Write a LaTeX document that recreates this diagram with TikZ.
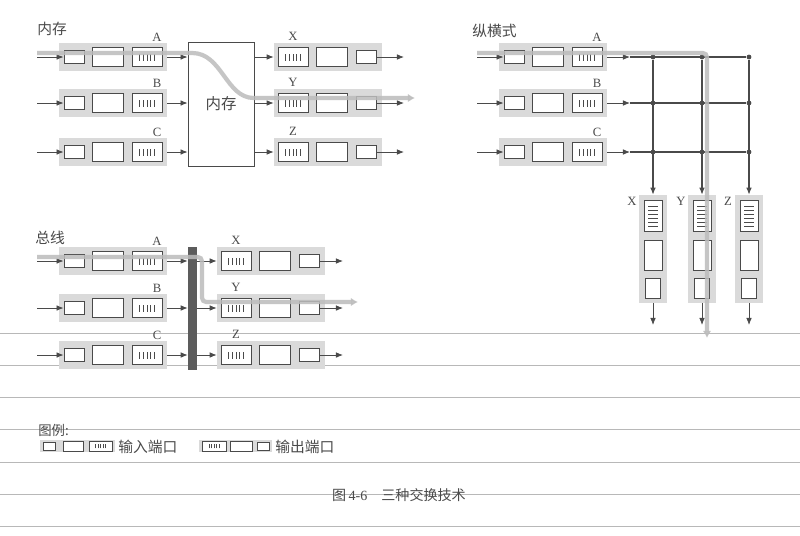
\documentclass[tikz,border=0pt]{standalone}
\usepackage{fontspec}
\setmainfont{Liberation Serif}
\newfontfamily\cjk{Noto Sans CJK SC}
\usepackage{tikz}
\usetikzlibrary{arrows.meta,positioning}

\definecolor{ink}{HTML}{4A4A4A}
\definecolor{portgray}{HTML}{DADADA}
\definecolor{pathgray}{HTML}{BCBCBC}
\definecolor{rulegray}{HTML}{B8B8B8}

\tikzset{
  portbg/.style={fill=portgray, draw=none, inner sep=0pt},
  cell/.style={draw=ink, fill=white, line width=0.6pt, inner sep=0pt},
  smallcell/.style={cell, minimum width=0.5cm, minimum height=0.33cm},
  midcell/.style={cell, minimum width=0.77cm, minimum height=0.48cm},
  queue/.style={cell, minimum width=0.75cm, minimum height=0.48cm,
    path picture={\foreach \k in {-2,...,2}
      \draw[ink, line width=0.4pt] ([xshift=\k*2.6pt, yshift=-2.8pt]path picture bounding box.center) -- ++(0,4.6pt);}},
  vsmallcell/.style={cell, minimum width=0.38cm, minimum height=0.5cm},
  vmidcell/.style={cell, minimum width=0.45cm, minimum height=0.75cm},
  vqueue/.style={cell, minimum width=0.45cm, minimum height=0.78cm,
    path picture={\foreach \k in {-2.5,...,2.5}
      \draw[ink, line width=0.4pt] ([xshift=-3.4pt, yshift=\k*2.8pt]path picture bounding box.center) -- ++(6.8pt,0);}},
  lcell/.style={cell, line width=0.5pt},
  lqueue/.style={cell, line width=0.5pt,
    path picture={\foreach \k in {-2,...,2}
      \draw[ink, line width=0.3pt] ([xshift=\k*1.8pt, yshift=-1.6pt]path picture bounding box.center) -- ++(0,3.2pt);}},
  lbl/.style={text=ink, font=\small, inner sep=0pt},
  ttl/.style={text=ink, font=\cjk\fontsize{10.5}{12}\selectfont, inner sep=0pt},
  arr/.style={ink, line width=0.6pt, -{Latex[length=5pt,width=4pt]}},
  wire/.style={ink, line width=0.8pt},
  dot/.style={circle, fill=ink, inner sep=0pt, minimum size=3.4pt},
  hl/.style={pathgray, line width=3pt, opacity=0.85, rounded corners=3pt,
    -{Latex[length=5pt,width=6pt]}},
  rule/.style={rulegray, line width=0.6pt}
}

% input port: name, left x, row y, label
\newcommand\inport[4]{%
  \node[portbg, minimum width=2.7cm, minimum height=0.7cm] (#1-bg) at (#2+54,#3) {};
  \node[smallcell] (#1-s) at (#2+15,#3) {};
  \node[midcell] (#1-m) at (#2+49,#3) {};
  \node[queue] (#1-q) at (#2+88,#3) {};
  \node[lbl] (#1-l) at (#2+98,#3-20) {#4};
}
% output port: name, left x, row y, label
\newcommand\outport[4]{%
  \node[portbg, minimum width=2.7cm, minimum height=0.7cm] (#1-bg) at (#2+54,#3) {};
  \node[queue] (#1-q) at (#2+19,#3) {};
  \node[midcell] (#1-m) at (#2+58,#3) {};
  \node[smallcell] (#1-s) at (#2+92,#3) {};
  \node[lbl] (#1-l) at (#2+19,#3-21) {#4};
}
% vertical output port: name, column x, top y, label
\newcommand\downport[4]{%
  \node[portbg, minimum width=0.68cm, minimum height=2.7cm] (#1-bg) at (#2,#3+54) {};
  \node[vqueue] (#1-q) at (#2,#3+21) {};
  \node[vmidcell] (#1-m) at (#2,#3+60) {};
  \node[vsmallcell] (#1-s) at (#2,#3+93) {};
  \node[lbl] (#1-l) at (#2-21,#3+6) {#4};
}

\begin{document}
\begin{tikzpicture}[x=0.025cm, y=-0.025cm]
    \useasboundingbox[fill=white] (0,0) rectangle (800,535);

    % ruled lines of the page
    \foreach \y in {333,365,397,429,462,494,526}
      \draw[rule] (0,\y) -- (800,\y);

    % Memory
    \node[ttl, anchor=west] (memtitle) at (37,29) {内存};
    \inport{mA}{59}{57}{A}
    \inport{mB}{59}{103}{B}
    \inport{mC}{59}{152}{C}
    \node[draw=ink, fill=white, line width=0.6pt, minimum width=1.65cm, minimum height=3.1cm] (mem) at (221,104) {};
    \node[ttl, font=\cjk\fontsize{11}{13}\selectfont] (memlabel) at (mem) {内存};
    \outport{oX}{274}{57}{X}
    \outport{oY}{274}{103}{Y}
    \outport{oZ}{274}{152}{Z}
    \coordinate (mA-in) at (37,57);
    \coordinate (mB-in) at (37,103);
    \coordinate (mC-in) at (37,152);
    \coordinate (oX-out) at (404,57);
    \coordinate (oY-out) at (404,103);
    \coordinate (oZ-out) at (404,152);
    \draw[arr] (mA-in) -- (mA-s);
    \draw[arr] (mB-in) -- (mB-s);
    \draw[arr] (mC-in) -- (mC-s);
    \draw[arr] (mA-bg.east) -- (mA-bg.east -| mem.west);
    \draw[arr] (mB-bg.east) -- (mB-bg.east -| mem.west);
    \draw[arr] (mC-bg.east) -- (mC-bg.east -| mem.west);
    \draw[arr] (mem.east |- oX-bg) -- (oX-bg.west);
    \draw[arr] (mem.east |- oY-bg) -- (oY-bg.west);
    \draw[arr] (mem.east |- oZ-bg) -- (oZ-bg.west);
    \draw[arr] (oX-s.east) -- (oX-out);
    \draw[arr] (oY-s.east) -- (oY-out);
    \draw[arr] (oZ-s.east) -- (oZ-out);
    % path A -> Y
    \coordinate (hm1) at (37,53);
    \coordinate (hm2) at (188,53);
    \coordinate (hm3) at (258,98);
    \coordinate (hm4) at (415,98);
    \draw[hl] (hm1) -- (hm2) .. controls (222,53) and (226,98) .. (hm3) -- (hm4);

    % Crossbar
    \node[ttl, anchor=west] (xbtitle) at (472,31) {纵横式};
    \inport{cA}{499}{57}{A}
    \inport{cB}{499}{103}{B}
    \inport{cC}{499}{152}{C}
    \coordinate (cA-in) at (477,57);
    \coordinate (cB-in) at (477,103);
    \coordinate (cC-in) at (477,152);
    \coordinate (gA) at (630,57);
    \coordinate (gB) at (630,103);
    \coordinate (gC) at (630,152);
    \draw[arr] (cA-in) -- (cA-s);
    \draw[arr] (cB-in) -- (cB-s);
    \draw[arr] (cC-in) -- (cC-s);
    \node[dot] (xAX) at (653,57) {};
    \node[dot] (xAY) at (702,57) {};
    \node[dot] (xAZ) at (749,57) {};
    \node[dot] (xBX) at (653,103) {};
    \node[dot] (xBY) at (702,103) {};
    \node[dot] (xBZ) at (749,103) {};
    \node[dot] (xCX) at (653,152) {};
    \node[dot] (xCY) at (702,152) {};
    \node[dot] (xCZ) at (749,152) {};
    \downport{vX}{653}{195}{X}
    \downport{vY}{702}{195}{Y}
    \downport{vZ}{749}{195}{Z}
    \draw[arr] (cA-bg.east) -- (gA);
    \draw[arr] (cB-bg.east) -- (gB);
    \draw[arr] (cC-bg.east) -- (gC);
    \draw[wire] (gA) -- (xAZ);
    \draw[wire] (gB) -- (xBZ);
    \draw[wire] (gC) -- (xCZ);
    \draw[arr, line width=0.8pt] (xAX) -- (vX-bg.north);
    \draw[arr, line width=0.8pt] (xAY) -- (vY-bg.north);
    \draw[arr, line width=0.8pt] (xAZ) -- (vZ-bg.north);
    \coordinate (vX-out) at (653,325);
    \coordinate (vY-out) at (702,325);
    \coordinate (vZ-out) at (749,325);
    \draw[arr] (vX-bg.south) -- (vX-out);
    \draw[arr] (vY-bg.south) -- (vY-out);
    \draw[arr] (vZ-bg.south) -- (vZ-out);
    % path A -> Y
    \coordinate (hc1) at (477,53);
    \coordinate (hc2) at (707,53);
    \coordinate (hc3) at (707,338);
    \draw[hl] (hc1) -- (hc2) -- (hc3);

    % Bus
    \node[ttl, anchor=west] (bustitle) at (35,238) {总线};
    \inport{bA}{59}{261}{A}
    \inport{bB}{59}{308}{B}
    \inport{bC}{59}{355}{C}
    \node[fill=ink!90, inner sep=0pt, minimum width=0.225cm, minimum height=3.075cm] (bus) at (192.5,308.5) {};
    \outport{bX}{217}{261}{X}
    \outport{bY}{217}{308}{Y}
    \outport{bZ}{217}{355}{Z}
    \coordinate (bA-in) at (37,261);
    \coordinate (bB-in) at (37,308);
    \coordinate (bC-in) at (37,355);
    \coordinate (bX-out) at (343,261);
    \coordinate (bY-out) at (343,308);
    \coordinate (bZ-out) at (343,355);
    \draw[arr] (bA-in) -- (bA-s);
    \draw[arr] (bB-in) -- (bB-s);
    \draw[arr] (bC-in) -- (bC-s);
    \draw[arr] (bA-bg.east) -- (bA-bg.east -| bus.west);
    \draw[arr] (bB-bg.east) -- (bB-bg.east -| bus.west);
    \draw[arr] (bC-bg.east) -- (bC-bg.east -| bus.west);
    \draw[arr] (bus.east |- bX-bg) -- (bX-bg.west);
    \draw[arr] (bus.east |- bY-bg) -- (bY-bg.west);
    \draw[arr] (bus.east |- bZ-bg) -- (bZ-bg.west);
    \draw[arr] (bX-s.east) -- (bX-out);
    \draw[arr] (bY-s.east) -- (bY-out);
    \draw[arr] (bZ-s.east) -- (bZ-out);
    % path A -> Y
    \coordinate (hb1) at (37,257);
    \coordinate (hb2) at (202,257);
    \coordinate (hb3) at (202,302);
    \coordinate (hb4) at (358,302);
    \draw[hl] (hb1) -- (hb2) -- (hb3) -- (hb4);

    % Legend
    \node[ttl, anchor=west, font=\cjk\fontsize{9.5}{11}\selectfont] (legtitle) at (38,430) {图例:};
    \node[portbg, minimum width=1.875cm, minimum height=0.3cm] (lin-bg) at (77.5,446) {};
    \node[lcell, minimum width=0.3cm, minimum height=0.2cm] (lin-s) at (49,446) {};
    \node[lcell, minimum width=0.5cm, minimum height=0.25cm] (lin-m) at (73,446) {};
    \node[lqueue, minimum width=0.58cm, minimum height=0.25cm] (lin-q) at (100.5,446) {};
    \node[ttl, anchor=west] (lin-t) at (118,447) {输入端口};
    \node[portbg, minimum width=1.83cm, minimum height=0.3cm] (lout-bg) at (235.5,446) {};
    \node[lqueue, minimum width=0.6cm, minimum height=0.25cm] (lout-q) at (214,446) {};
    \node[lcell, minimum width=0.55cm, minimum height=0.25cm] (lout-m) at (241.5,446) {};
    \node[lcell, minimum width=0.3cm, minimum height=0.2cm] (lout-s) at (263.5,446) {};
    \node[ttl, anchor=west] (lout-t) at (275,447) {输出端口};

    % Caption
    \node[text=ink, inner sep=0pt] (caption) at (399,495) {{\cjk 图}\,4-6\quad{\cjk 三种交换技术}};
\end{tikzpicture}
\end{document}
